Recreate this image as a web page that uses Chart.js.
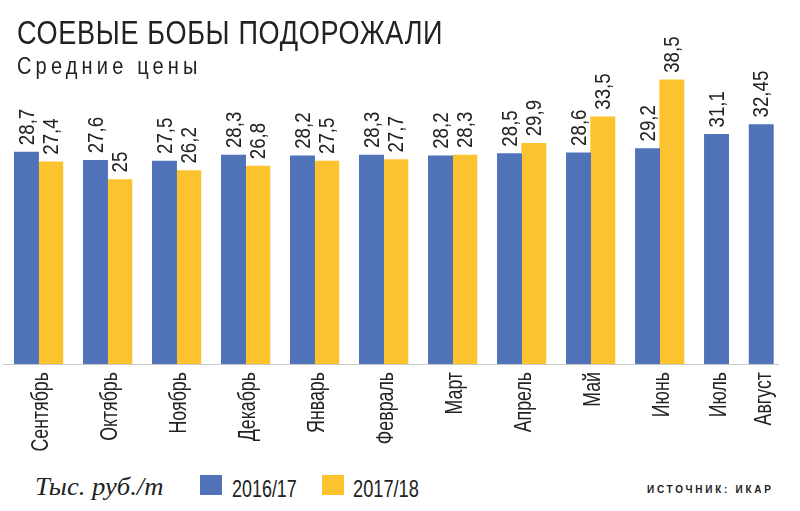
<!DOCTYPE html>
<html>
<head>
<meta charset="utf-8">
<script src="https://cdn.jsdelivr.net/npm/chart.js@4"></script>
<style>
  body { margin: 0; background: #fff; }
  #wrap { position: relative; width: 800px; height: 511px; overflow: hidden; color: #222; }
  #box { position: absolute; left: 0; top: 0; width: 800px; height: 470px; }
  .t { position: absolute; white-space: nowrap; line-height: 1; transform-origin: 0 0; }
  #title { left: 17px; top: 14px; font: 33px "Liberation Sans", Arial, sans-serif; letter-spacing: 0.8px; }
  #sub { left: 17px; top: 52px; font: 24px "Liberation Sans", Arial, sans-serif; letter-spacing: 5px; }
  #unit { left: 35px; top: 472px; font: italic 26px "Liberation Serif", serif; }
  .sw { position: absolute; top: 475px; width: 22px; height: 20px; }
  .lg { top: 475px; font: 24px "Liberation Sans", Arial, sans-serif; }
  #src { left: 647px; top: 483px; font: bold 11px "Liberation Sans", sans-serif; letter-spacing: 3px; }
</style>
</head>
<body>
<div id="wrap">
  <div id="box"><canvas id="chart"></canvas></div>
  <div class="t" id="title" data-w="426">СОЕВЫЕ БОБЫ ПОДОРОЖАЛИ</div>
  <div class="t" id="sub" data-w="185">Средние цены</div>
  <div class="t" id="unit" data-w="128">Тыс. руб./т</div>
  <div class="sw" style="left:200px;background:#4f72b8"></div>
  <div class="t lg" style="left:232px" data-w="65">2016/17</div>
  <div class="sw" style="left:322px;background:#fdc32e"></div>
  <div class="t lg" style="left:353px" data-w="66">2017/18</div>
  <div class="t" id="src" data-w="127">ИСТОЧНИК: ИКАР</div>
</div>
<script>
const months = ['Сентябрь', 'Октябрь', 'Ноябрь', 'Декабрь', 'Январь', 'Февраль', 'Март', 'Апрель', 'Май', 'Июнь', 'Июль', 'Август'];
const s2016 = [28.7, 27.6, 27.5, 28.3, 28.2, 28.3, 28.2, 28.5, 28.6, 29.2, 31.1, 32.45];
const s2017 = [27.4, 25, 26.2, 26.8, 27.5, 27.7, 28.3, 29.9, 33.5, 38.5, null, null];

const BLUE = '#4f72b8';
const YELLOW = '#fdc32e';
const FONT = '"Liberation Sans", Arial, sans-serif';

// подгоняем ширину подписей в HTML
document.querySelectorAll('[data-w]').forEach(el => {
  const k = +el.dataset.w / el.offsetWidth;
  el.style.transform = 'scaleX(' + k + ')';
});

// каждый месяц занимает столько слотов, сколько у него столбиков, плюс промежуток
const GAP = 0.84;
const blueX = [], yellowX = [], centerX = [];
let pos = 0;
months.forEach((m, i) => {
  const n = [s2016[i], s2017[i]].filter(v => v != null).length;
  blueX.push(pos + 0.5);
  yellowX.push(pos + 1.5);
  centerX.push(pos + n / 2);
  pos += n + GAP;
});

const toPoints = (xs, vals) => vals
  .map((v, i) => ({ x: xs[i], y: v }))
  .filter(p => p.y != null);

// вертикальный текст, сжатый по длине (как Arial Narrow)
function drawUp(ctx, text, x, y, align, squeeze) {
  ctx.save();
  ctx.translate(x, y);
  ctx.rotate(-Math.PI / 2);
  ctx.scale(squeeze, 1);
  ctx.textAlign = align;
  ctx.textBaseline = 'middle';
  ctx.fillText(text, 0, 1);
  ctx.restore();
}

const textPlugin = {
  id: 'textPlugin',
  afterDatasetsDraw(chart) {
    const ctx = chart.ctx;
    ctx.save();
    ctx.fillStyle = '#222';
    // значения над столбиками
    ctx.font = '22px ' + FONT;
    chart.data.datasets.forEach((ds, di) => {
      chart.getDatasetMeta(di).data.forEach((bar, i) => {
        drawUp(ctx, String(ds.data[i].y).replace('.', ','), bar.x, bar.y - 7, 'left', 0.85);
      });
    });
    // месяцы под осью
    const xs = chart.scales.x;
    ctx.font = '24px ' + FONT;
    xs.ticks.forEach((t, i) => {
      drawUp(ctx, months[i], xs.getPixelForTick(i) + 2, xs.top + 8, 'right', 0.74);
    });
    ctx.restore();
  }
};

new Chart(document.getElementById('chart'), {
  type: 'bar',
  data: {
    datasets: [
      { label: '2016/17', data: toPoints(blueX, s2016), backgroundColor: BLUE },
      { label: '2017/18', data: toPoints(yellowX, s2017), backgroundColor: YELLOW }
    ]
  },
  options: {
    responsive: true,
    maintainAspectRatio: false,
    animation: false,
    grouped: false,
    barPercentage: 1,
    categoryPercentage: 1,
    layout: { padding: { left: 3, right: 22, top: 54, bottom: 0 } },
    plugins: {
      legend: { display: false },
      tooltip: { enabled: false }
    },
    scales: {
      x: {
        type: 'linear',
        offset: false,
        bounds: 'data',
        min: -0.465,
        max: 31.43,
        grid: { display: false, drawTicks: false },
        border: { display: true, color: '#c9c9c9', width: 1 },
        afterBuildTicks(scale) {
          scale.ticks = centerX.map(v => ({ value: v }));
        },
        afterFit(scale) {
          scale.height = 106;
        },
        ticks: {
          autoSkip: false,
          minRotation: 90,
          maxRotation: 90,
          color: 'rgba(0,0,0,0)',
          callback: (v, i) => months[i]
        }
      },
      y: {
        display: false,
        min: 0,
        max: 42
      }
    }
  },
  plugins: [textPlugin]
});
</script>
</body>
</html>
